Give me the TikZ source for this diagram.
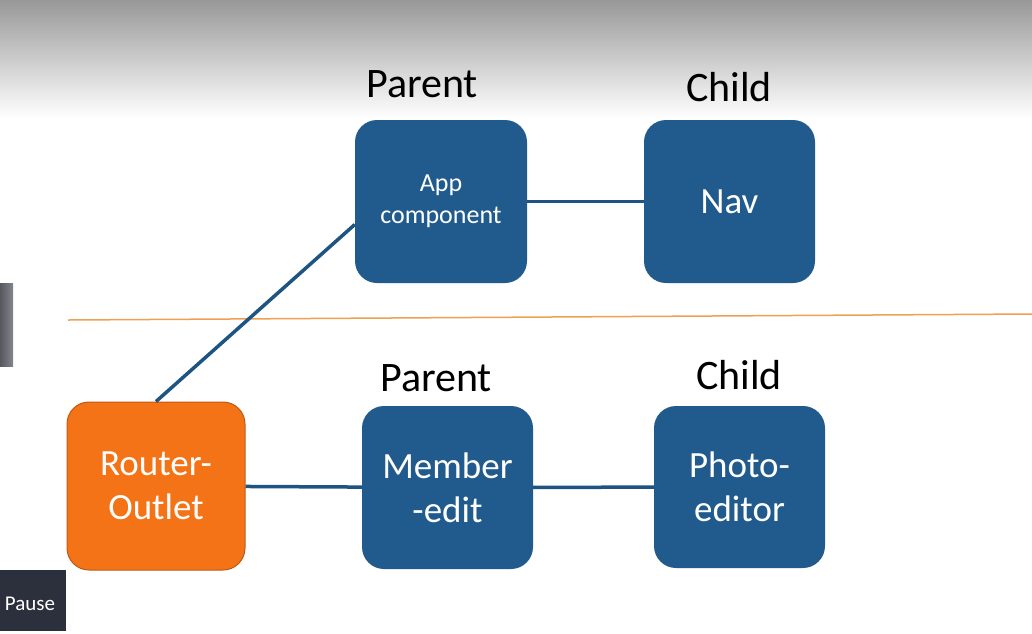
\documentclass[tikz,border=0pt]{standalone}
\usepackage{fontspec}
\setmainfont{Carlito}
\usetikzlibrary{positioning}
\definecolor{boxblue}{RGB}{33,91,141}
\definecolor{linkblue}{RGB}{30,84,130}
\definecolor{routerorange}{RGB}{244,115,22}
\definecolor{routerrim}{RGB}{190,90,20}
\definecolor{splitline}{RGB}{240,160,80}
\definecolor{pausebg}{RGB}{43,48,60}
\definecolor{sidegray}{RGB}{100,104,112}
\tikzset{
  comp/.style={rectangle, rounded corners=22pt, fill=boxblue, text=white,
    minimum width=171pt, minimum height=163pt, align=center,
    font=\fontsize{37}{44}\selectfont},
  outlet/.style={comp, fill=routerorange, draw=routerrim, line width=1pt,
    minimum width=178pt, minimum height=168pt},
  role/.style={anchor=base, font=\fontsize{42}{48}\selectfont},
  link/.style={draw=linkblue, line width=3.5pt}
}
\begin{document}
\begin{tikzpicture}[x=1pt, y=-1pt]
  \useasboundingbox (0,0) rectangle (1032,633);
  \shade [top color={rgb,255:red,152;green,152;blue,152}, middle color={rgb,255:red,218;green,218;blue,218}, bottom color=white] (0,0) rectangle (1032,118);
  % left screen bits
  \shade [left color=sidegray!85!black, right color=sidegray!80] (0,283) rectangle (13,366);
  \fill [pausebg] (0,570) rectangle (66,631);
  \node [anchor=base, text=white, font=\fontsize{21}{24}\selectfont] (pause) at (30,610) {Pause};
  % divider
  \draw [splitline, line width=1.5pt] (68,320) -- (1032,314);
  % components
  \node [comp, font=\fontsize{26}{32}\selectfont, minimum width=172pt] (app) at (441,201.5) {App\\component};
  \node [comp] (nav) at (729.5,201.5) {Nav};
  \node [outlet] (router) at (156,486) {Router-\\Outlet};
  \node [comp] (member) at (447.5,487.5) {Member\\-edit};
  \node [comp, minimum height=162pt] (photo) at (739.5,487) {Photo-\\editor};
  \node [role] (appRole) at (422,97) {Parent};
  \node [role] (navRole) at (729,101) {Child};
  \node [role] (memberRole) at (436,391) {Parent};
  \node [role] (photoRole) at (739,389) {Child};
  \path [link] (app) -- (nav);
  \path [link] (router.north) -- ([yshift=-23pt]app.west);
  \path [link] (router) -- (member);
  \path [link] (member) -- (photo);
\end{tikzpicture}
\end{document}
